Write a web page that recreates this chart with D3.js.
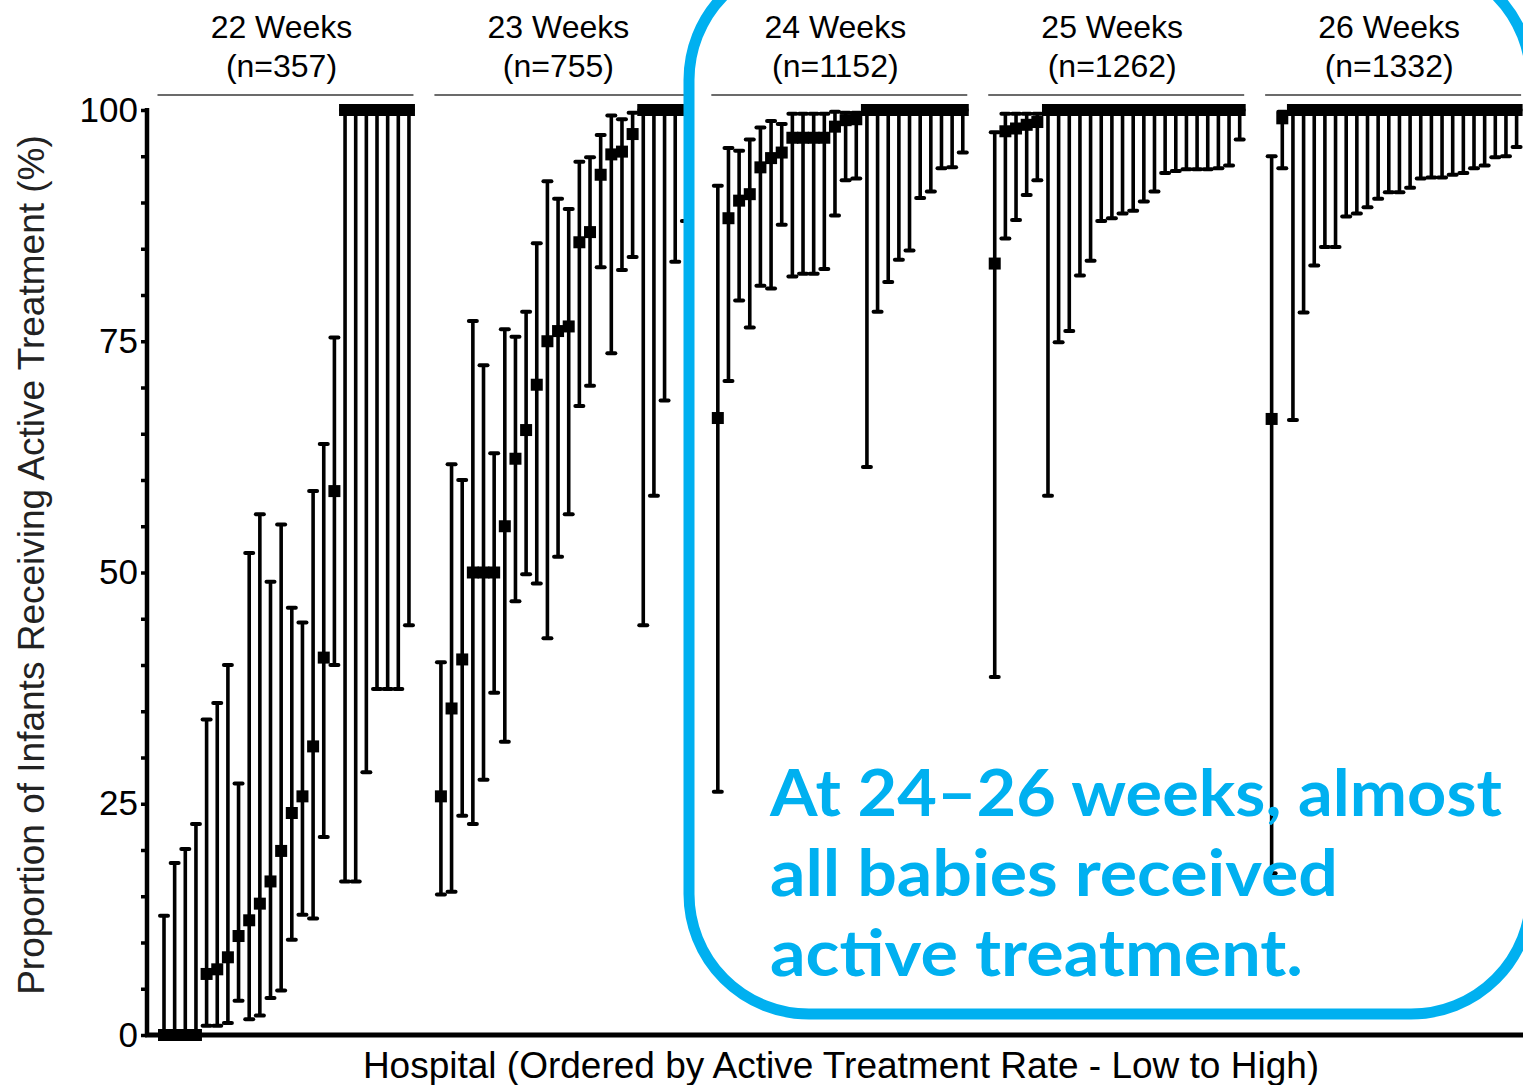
<!DOCTYPE html>
<html>
<head>
<meta charset="utf-8">
<script src="https://cdn.jsdelivr.net/npm/d3@7"></script>
<style>
  html, body { margin: 0; padding: 0; background: #fff; overflow: hidden; }
  svg { display: block; }
</style>
</head>
<body>
<svg id="chart" width="1523" height="1085"></svg>
<script>
// panels (gestational age) and number of infants
const weeks = ["22 Weeks", "23 Weeks", "24 Weeks", "25 Weeks", "26 Weeks"];
const nLabels = ["(n=357)", "(n=755)", "(n=1152)", "(n=1262)", "(n=1332)"];

// per-hospital estimates with lower / upper confidence limits (%)
const est22 = [0, 0, 0, 0, 6.6, 7.1, 8.4, 10.7, 12.4, 14.2, 16.6, 19.9, 24.0, 25.8, 31.2, 40.8, 58.8, 100, 100, 100, 100, 100, 100, 100];
const lo22  = [0, 0, 0, 0, 1.0, 1.0, 1.3, 3.7, 1.7, 2.1, 4.0, 4.8, 10.3, 13.0, 12.6, 21.4, 40.0, 16.6, 16.6, 28.4, 37.4, 37.4, 37.4, 44.3];
const hi22  = [12.9, 18.6, 20.1, 22.8, 34.1, 35.9, 40.0, 27.2, 52.1, 56.3, 49.0, 55.2, 46.2, 44.6, 58.8, 63.9, 75.4, 100, 100, 100, 100, 100, 100, 100];

const est23 = [25.8, 35.3, 40.6, 50, 50, 50, 55.0, 62.3, 65.4, 70.3, 75.0, 76.1, 76.6, 85.7, 86.8, 93.0, 95.2, 95.5, 97.4, 100, 100, 100, 100, 100];
const lo23  = [15.2, 15.5, 23.7, 22.8, 27.6, 37.0, 31.7, 46.9, 49.8, 48.8, 42.9, 51.7, 56.3, 68.0, 70.2, 83.0, 73.7, 82.7, 84.1, 44.3, 58.3, 68.6, 83.6, 88.0];
const hi23  = [40.3, 61.7, 60.0, 77.2, 72.4, 62.9, 76.3, 75.5, 78.2, 85.6, 92.3, 90.4, 89.3, 94.4, 94.9, 97.3, 99.4, 99.0, 99.7, 100, 100, 100, 100, 100];

const est24 = [66.7, 88.3, 90.2, 90.9, 93.8, 94.8, 95.4, 97.0, 97.0, 97.0, 97.0, 98.2, 98.9, 99.0, 100, 100, 100, 100, 100, 100, 100, 100, 100, 100];
const lo24  = [26.3, 70.7, 79.4, 76.5, 81.0, 80.7, 87.6, 82.0, 82.3, 82.3, 82.8, 88.6, 92.4, 92.6, 61.4, 78.2, 81.4, 83.8, 84.8, 90.5, 91.2, 93.7, 93.8, 95.4];
const hi24  = [91.8, 95.9, 95.6, 96.8, 98.1, 98.8, 98.5, 99.6, 99.6, 99.6, 99.6, 99.8, 99.7, 99.7, 100, 100, 100, 100, 100, 100, 100, 100, 100, 100];

const est25 = [83.4, 97.7, 98.0, 98.4, 98.7, 100, 100, 100, 100, 100, 100, 100, 100, 100, 100, 100, 100, 100, 100, 100, 100, 100, 100, 100];
const lo25  = [38.7, 86.1, 88.1, 90.8, 92.4, 58.3, 74.9, 76.1, 82.1, 83.7, 88.0, 88.3, 88.8, 89.1, 90.1, 91.2, 93.2, 93.4, 93.6, 93.6, 93.6, 93.7, 94.0, 96.8];
const hi25  = [97.6, 99.6, 99.6, 99.6, 99.6, 100, 100, 100, 100, 100, 100, 100, 100, 100, 100, 100, 100, 100, 100, 100, 100, 100, 100, 100];

const est26 = [66.6, 99.1, 100, 100, 100, 100, 100, 100, 100, 100, 100, 100, 100, 100, 100, 100, 100, 100, 100, 100, 100, 100, 100, 100];
const lo26  = [17.5, 93.7, 66.5, 78.1, 83.2, 85.2, 85.2, 88.5, 88.8, 89.5, 90.4, 91.1, 91.1, 91.6, 92.6, 92.7, 92.7, 93.0, 93.2, 93.7, 94.0, 94.9, 95.0, 96.0];
const hi26  = [95.0, 99.8, 100, 100, 100, 100, 100, 100, 100, 100, 100, 100, 100, 100, 100, 100, 100, 100, 100, 100, 100, 100, 100, 100];

const yTicks = d3.range(0, 101, 5);
const yLabels = [0, 25, 50, 75, 100];

const estSets = [est22, est23, est24, est25, est26];
const loSets = [lo22, lo23, lo24, lo25, lo26];
const hiSets = [hi22, hi23, hi24, hi25, hi26];

const BLUE = "#00B0F0";
const SLOTS = 26; // 24 hospitals + 2 empty slots between panels

const svg = d3.select("#chart");

const y = d3.scaleLinear().domain([0, 100]).range([1035, 110]);
const x = d3.scaleLinear().domain([0, 127]).range([164, 1516.6]);

// flatten into one record per hospital
const points = [];
weeks.forEach((w, p) => {
    estSets[p].forEach((v, i) => {
        points.push({ panel: p, slot: p * SLOTS + i, est: v, lo: loSets[p][i], hi: hiSets[p][i] });
    });
});

// panel headers
const headers = svg.append("g").attr("class", "headers");
weeks.forEach((w, p) => {
    const x0 = x(p * SLOTS), x1 = x(p * SLOTS + 23);
    const cx = (x0 + x1) / 2 - 5;
    headers.append("line")
        .attr("x1", x0 - 6.5).attr("x2", x1 + 4.5)
        .attr("y1", 95).attr("y2", 95)
        .attr("stroke", "#6b6b6b").attr("stroke-width", 2);
    headers.append("text")
        .attr("x", cx).attr("y", 38)
        .attr("text-anchor", "middle")
        .style("font", "32px 'Liberation Sans', Arial, sans-serif")
        .text(w);
    headers.append("text")
        .attr("x", cx).attr("y", 77)
        .attr("text-anchor", "middle")
        .style("font", "32px 'Liberation Sans', Arial, sans-serif")
        .text(nLabels[p]);
});

// y axis
const yAxis = d3.axisLeft(y)
    .tickValues(yTicks)
    .tickSize(6)
    .tickSizeOuter(0)
    .tickPadding(3)
    .tickFormat(d => yLabels.includes(d) ? d : "");

const yg = svg.append("g")
    .attr("transform", "translate(147,0)")
    .call(yAxis);
yg.select(".domain").attr("stroke", "#000").attr("stroke-width", 4.5)
    .attr("d", `M0,${y(100) - 2}V${y(0) + 2}`);
yg.selectAll(".tick line").attr("stroke", "#000").attr("stroke-width", 3.5);
yg.selectAll(".tick text")
    .attr("fill", "#000")
    .style("font", "35px 'Liberation Sans', Arial, sans-serif");

// x axis baseline
svg.append("line")
    .attr("x1", 145).attr("x2", 1523)
    .attr("y1", y(0)).attr("y2", y(0))
    .attr("stroke", "#000").attr("stroke-width", 5);

// error bars
const bars = svg.append("g").attr("class", "bars");
bars.selectAll(".ci")
    .data(points)
    .join("line")
    .attr("class", "ci")
    .attr("x1", d => x(d.slot)).attr("x2", d => x(d.slot))
    .attr("y1", d => y(d.lo)).attr("y2", d => y(d.hi))
    .attr("stroke", "#000").attr("stroke-width", 3.6);

const caps = points.flatMap(d => [{ slot: d.slot, v: d.lo }, { slot: d.slot, v: d.hi }]);
bars.selectAll(".cap")
    .data(caps)
    .join("line")
    .attr("class", "cap")
    .attr("x1", d => x(d.slot) - 4).attr("x2", d => x(d.slot) + 4)
    .attr("y1", d => y(d.v)).attr("y2", d => y(d.v))
    .attr("stroke", "#000").attr("stroke-width", 4)
    .attr("stroke-linecap", "round");

const SQ = 12;
bars.selectAll(".est")
    .data(points)
    .join("rect")
    .attr("class", "est")
    .attr("x", d => x(d.slot) - SQ / 2)
    .attr("y", d => y(d.est) - SQ / 2)
    .attr("width", SQ).attr("height", SQ)
    .attr("fill", "#000");

// axis titles
svg.append("text")
    .attr("transform", `translate(44,565) rotate(-90)`)
    .attr("text-anchor", "middle")
    .style("font", "37px 'Liberation Sans', Arial, sans-serif")
    .attr("fill", "#222")
    .text("Proportion of Infants Receiving Active Treatment (%)");

svg.append("text")
    .attr("x", 841).attr("y", 1078)
    .attr("text-anchor", "middle")
    .style("font", "37px 'Liberation Sans', Arial, sans-serif")
    .text("Hospital (Ordered by Active Treatment Rate - Low to High)");

// callout
svg.append("rect")
    .attr("x", 689).attr("y", -40)
    .attr("width", 1531 - 689).attr("height", 1014 + 40)
    .attr("rx", 120).attr("ry", 120)
    .attr("fill", "none")
    .attr("stroke", BLUE).attr("stroke-width", 11);

const calloutLines = ["At 24\u201326 weeks, almost", "all babies received", "active treatment."];
const calloutWidths = [732, 568, 533];
svg.append("g").selectAll("text")
    .data(calloutLines)
    .join("text")
    .attr("x", 770)
    .attr("y", (d, i) => 816 + i * 80)
    .attr("textLength", (d, i) => calloutWidths[i])
    .attr("lengthAdjust", "spacingAndGlyphs")
    .attr("fill", BLUE)
    .style("font", "bold 65px Lato, 'Open Sans', sans-serif")
    .text(d => d);
</script>
</body>
</html>
